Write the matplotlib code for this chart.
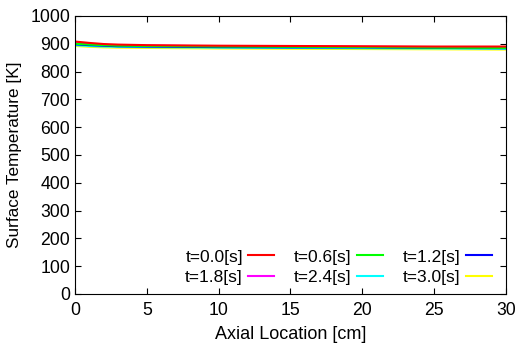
import matplotlib
matplotlib.use('Agg')
import matplotlib.pyplot as plt

plt.rcParams.update({
    "font.family": "Liberation Sans",
    "font.size": 12.7,
    "xtick.direction": "in",
    "ytick.direction": "in",
    "xtick.top": True,
    "ytick.right": True,
})

# axial location [cm]
x_cm = [0, 1, 2, 3, 5, 7.5, 10, 15, 20, 25, 30]

# surface temperature [K] for each time
temps = {
    "t=0.0[s]": [908, 903, 899, 897, 895, 894, 893, 892, 891, 890, 890],
    "t=0.6[s]": [900, 897, 895, 893, 892, 891, 890, 889, 888, 886, 885],
    "t=1.2[s]": [898, 895, 893, 891, 890, 889, 888, 887, 887, 885, 884],
    "t=1.8[s]": [903, 899, 896, 894, 893, 892, 891, 890, 889, 888, 887],
    "t=2.4[s]": [895, 892, 890, 889, 888, 887, 886, 885, 884, 883, 882],
    "t=3.0[s]": [892, 889, 887, 886, 885, 884, 883, 882, 881, 880, 879],
}
colors = {
    "t=0.0[s]": "#ff0000",
    "t=0.6[s]": "#00ff00",
    "t=1.2[s]": "#0000ff",
    "t=1.8[s]": "#ff00ff",
    "t=2.4[s]": "#00ffff",
    "t=3.0[s]": "#ffff00",
}

fig = plt.figure(figsize=(5.21, 3.47), dpi=100)
ax = fig.add_axes([0.144, 0.153, 0.827, 0.801])

lines = {}
for label in ["t=3.0[s]", "t=2.4[s]", "t=1.8[s]", "t=1.2[s]", "t=0.6[s]", "t=0.0[s]"]:
    lines[label], = ax.plot(x_cm, temps[label], color=colors[label], linewidth=1.5, label=label)

ax.set_xlim(0, 30)
ax.set_ylim(0, 1000)
ax.set_xticks(range(0, 31, 5))
ax.set_yticks(range(0, 1001, 100))
ax.set_xlabel("Axial Location [cm]", labelpad=5, fontsize=13)
ax.set_ylabel("Surface Temperature [K]", labelpad=6, fontsize=12.3)
ax.tick_params(length=4, width=0.8, labelsize=12.7)
ax.tick_params(axis="x", pad=6)
ax.tick_params(axis="y", pad=3.5)

order = ["t=0.0[s]", "t=1.8[s]", "t=0.6[s]", "t=2.4[s]", "t=1.2[s]", "t=3.0[s]"]
ax.legend([lines[k] for k in order], order, ncol=3, loc="lower right",
          bbox_to_anchor=(0.988, 0.0),
          frameon=False, markerfirst=False, handlelength=1.5,
          handletextpad=0.3, columnspacing=1.15, labelspacing=0.32,
          borderaxespad=0.1, fontsize=12.5)

fig.savefig("out.png", dpi=100)
